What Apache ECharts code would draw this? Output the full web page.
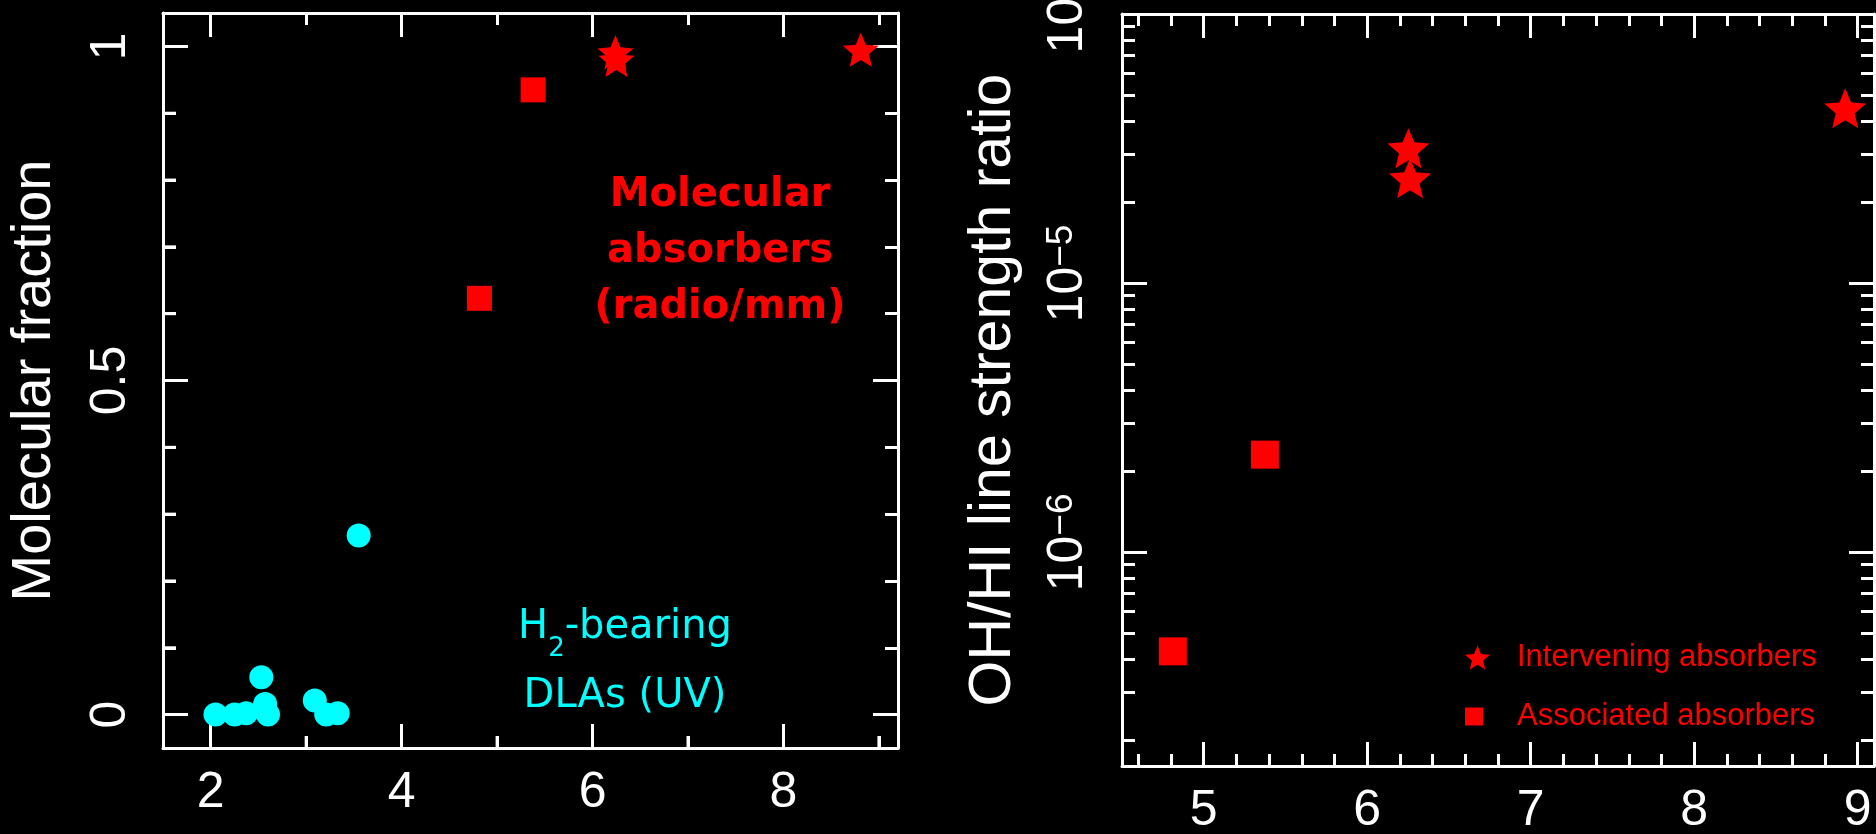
<!DOCTYPE html>
<html><head><meta charset="utf-8">
<script src="https://cdn.jsdelivr.net/npm/echarts@6/dist/echarts.min.js"></script>
<style>html,body{margin:0;padding:0;background:#000}#c{width:1876px;height:834px}</style>
</head><body><div id="c"></div>
<script>
// ---------- Left panel data ----------
const leftXRange = [1.5, 9.2];
const leftYRange = [-0.05, 1.05];
const leftXMajorTicks = [2, 4, 6, 8];
const leftXMinorTicks = [3, 5, 7, 9];
const leftYMajorTicks = [0, 0.5, 1];
const leftYMinorTicks = [0.1, 0.2, 0.3, 0.4, 0.6, 0.7, 0.8, 0.9];
const dlaX = [2.05, 2.25, 2.37, 2.53, 2.57, 2.60, 3.09, 3.21, 3.33, 3.55];
const dlaY = [0.0, 0.0, 0.002, 0.056, 0.016, 0.0, 0.021, 0.0, 0.002, 0.268];
const molSquareX = [4.815, 5.377];
const molSquareY = [0.623, 0.935];
const molStarX = [6.24, 6.25, 8.81];
const molStarY = [0.991, 0.98, 0.995];
// ---------- Right panel data ----------
const rightXRange = [4.5, 9.1];
const rightYRange = [1.6e-7, 1e-4];
const rightXMajorTicks = [5, 6, 7, 8, 9];
const rightXMinorTicks = [4.6, 4.8, 5.2, 5.4, 5.6, 5.8, 6.2, 6.4, 6.6, 6.8, 7.2, 7.4, 7.6, 7.8, 8.2, 8.4, 8.6, 8.8];
const rightYMajorTicks = [1e-6, 1e-5, 1e-4];
const rightYMinorTicks = [2e-7, 3e-7, 4e-7, 5e-7, 6e-7, 7e-7, 8e-7, 9e-7,
  2e-6, 3e-6, 4e-6, 5e-6, 6e-6, 7e-6, 8e-6, 9e-6,
  2e-5, 3e-5, 4e-5, 5e-5, 6e-5, 7e-5, 8e-5, 9e-5];
const interveningX = [6.252, 6.262, 8.924];
const interveningY = [3.17e-5, 2.45e-5, 4.46e-5];
const associatedX = [4.811, 5.374];
const associatedY = [4.27e-7, 2.30e-6];

const WHITE = '#ffffff', RED = '#ff0000', CYAN = '#00ffff';
const FONT = 'Liberation Sans';
const STAR = 'path://M0,-10L2.645,-3.641L9.511,-3.09L4.28,1.391L5.878,8.09L0,4.5L-5.878,8.09L-4.28,1.391L-9.511,-3.09L-2.645,-3.641Z';

function frameAxis(gridIndex, position, type, range, ticks, len, showLine, label, extra) {
  const ax = {
    type: type, gridIndex: gridIndex, position: position, min: range[0], max: range[1],
    axisLine: {show: showLine, onZero: false, lineStyle: {color: WHITE, width: 3}},
    axisTick: {show: true, inside: true, length: len, customValues: ticks, lineStyle: {color: WHITE, width: 3}},
    axisLabel: label || {show: false},
    splitLine: {show: false},
    minorTick: {show: false}, minorSplitLine: {show: false}
  };
  if (type === 'log') ax.logBase = 10;
  return Object.assign(ax, extra || {});
}

const lxLabel = {show: true, customValues: leftXMajorTicks, color: WHITE, fontSize: 50, fontFamily: FONT, margin: 20};
const rxLabel = {show: true, customValues: rightXMajorTicks, color: WHITE, fontSize: 50, fontFamily: FONT, margin: 20};
const lyLabel = {show: true, customValues: leftYMajorTicks, rotate: 90, color: WHITE, fontSize: 50, fontFamily: FONT, margin: 27};
const ryLabel = {
  show: true, customValues: rightYMajorTicks, rotate: 90, margin: 29,
  formatter: function (v) { return '{b|10}{s|\u2212' + Math.round(-Math.log10(v)) + '}'; },
  rich: {
    b: {fontSize: 50, color: WHITE, fontFamily: FONT, padding: [0, 0, 0, 19]},
    s: {fontSize: 37, color: WHITE, fontFamily: FONT, verticalAlign: 'top'}
  }
};

const xAxes = [
  frameAxis(0, 'bottom', 'value', leftXRange, leftXMajorTicks, 24, true, lxLabel),
  frameAxis(0, 'bottom', 'value', leftXRange, leftXMinorTicks, 12, false),
  frameAxis(0, 'top', 'value', leftXRange, leftXMajorTicks, 24, true),
  frameAxis(0, 'top', 'value', leftXRange, leftXMinorTicks, 12, false),
  frameAxis(1, 'bottom', 'value', rightXRange, rightXMajorTicks, 24, true, rxLabel),
  frameAxis(1, 'bottom', 'value', rightXRange, rightXMinorTicks, 12, false),
  frameAxis(1, 'top', 'value', rightXRange, rightXMajorTicks, 24, true),
  frameAxis(1, 'top', 'value', rightXRange, rightXMinorTicks, 12, false)
];
const yAxes = [
  frameAxis(0, 'left', 'value', leftYRange, leftYMajorTicks, 25, true, lyLabel, {
    name: 'Molecular fraction', nameLocation: 'middle', nameGap: 100,
    nameTextStyle: {color: WHITE, fontSize: 56, fontFamily: FONT}
  }),
  frameAxis(0, 'left', 'value', leftYRange, leftYMinorTicks, 13, false),
  frameAxis(0, 'right', 'value', leftYRange, leftYMajorTicks, 25, true),
  frameAxis(0, 'right', 'value', leftYRange, leftYMinorTicks, 13, false),
  frameAxis(1, 'left', 'log', rightYRange, rightYMajorTicks, 25, true, ryLabel, {
    name: 'OH/HI line strength ratio', nameLocation: 'middle', nameGap: 99,
    nameTextStyle: {color: WHITE, fontSize: 59, fontFamily: FONT}
  }),
  frameAxis(1, 'left', 'log', rightYRange, rightYMinorTicks, 13, false),
  frameAxis(1, 'right', 'log', rightYRange, rightYMajorTicks, 25, true),
  frameAxis(1, 'right', 'log', rightYRange, rightYMinorTicks, 13, false)
];

function pairs(xs, ys) { return xs.map(function (x, i) { return [x, ys[i]]; }); }

// Extra tick drawing for the left panel's left and bottom minor ticks (through the axis scales)
function tickSeries(data, horizontal, len) {
  return {
    type: 'custom', xAxisIndex: 0, yAxisIndex: 0, silent: true, clip: false, z: 5,
    data: data,
    renderItem: function (params, api) {
      const p = api.coord([api.value(0), api.value(1)]);
      return {
        type: 'line',
        shape: horizontal ? {x1: p[0], y1: p[1], x2: p[0] + len, y2: p[1]}
                          : {x1: p[0], y1: p[1], x2: p[0], y2: p[1] - len},
        style: {stroke: WHITE, lineWidth: 3}
      };
    }
  };
}

const option = {
  backgroundColor: '#000000',
  animation: false,
  grid: [
    {left: 163, top: 13, width: 735, height: 735, containLabel: false, outerBoundsMode: 'none'},
    {left: 1122, top: 14, width: 752, height: 752, containLabel: false, outerBoundsMode: 'none'}
  ],
  xAxis: xAxes,
  yAxis: yAxes,
  legend: [
    {data: [{name: 'Intervening absorbers', icon: STAR}], left: 1465, top: 642, padding: 0,
     itemWidth: 25, itemHeight: 25, selectedMode: false,
     textStyle: {color: RED, fontSize: 31, fontFamily: FONT, padding: [0, 0, 0, 22]}},
    {data: [{name: 'Associated absorbers', icon: 'rect'}], left: 1465, top: 701, padding: 0,
     itemWidth: 18, itemHeight: 18, selectedMode: false,
     textStyle: {color: RED, fontSize: 31, fontFamily: FONT, padding: [0, 0, 0, 29]}}
  ],
  graphic: [
    {type: 'text', x: 720, y: 168, style: {
      text: 'Molecular\nabsorbers\n(radio/mm)', fill: RED, align: 'center', verticalAlign: 'top',
      font: 'bold 40px "DejaVu Sans"', lineHeight: 56}},
    {type: 'text', x: 625, y: 593, style: {
      text: '{n|H}{sub|2}{n|-bearing}\n{n|DLAs (UV)}', align: 'center', verticalAlign: 'top',
      rich: {
        n: {fill: CYAN, fontSize: 40, fontFamily: 'DejaVu Sans', lineHeight: 69},
        sub: {fill: CYAN, fontSize: 26, fontFamily: 'DejaVu Sans', lineHeight: 26, verticalAlign: 'bottom'}
      }}}
  ],
  series: [
    tickSeries(leftYMinorTicks.map(function (v) { return [leftXRange[0], v]; }), true, 13),
    tickSeries(leftXMinorTicks.map(function (v) { return [v, leftYRange[0]]; }), false, 12),
    {name: 'H2-bearing DLAs', type: 'scatter', xAxisIndex: 0, yAxisIndex: 0, data: pairs(dlaX, dlaY),
     symbol: 'circle', symbolSize: 24, itemStyle: {color: CYAN, opacity: 1}, z: 3},
    {name: 'Molecular (associated)', type: 'scatter', xAxisIndex: 0, yAxisIndex: 0, data: pairs(molSquareX, molSquareY),
     symbol: 'rect', symbolSize: 25, itemStyle: {color: RED, opacity: 1}, z: 3},
    {name: 'Molecular (intervening)', type: 'scatter', xAxisIndex: 0, yAxisIndex: 0, data: pairs(molStarX, molStarY),
     symbol: STAR, symbolKeepAspect: true, symbolSize: 36, itemStyle: {color: RED, opacity: 1}, z: 3},
    {name: 'Intervening absorbers', type: 'scatter', xAxisIndex: 4, yAxisIndex: 4, data: pairs(interveningX, interveningY),
     symbol: STAR, symbolKeepAspect: true, symbolSize: 42, itemStyle: {color: RED, opacity: 1}, z: 3},
    {name: 'Associated absorbers', type: 'scatter', xAxisIndex: 4, yAxisIndex: 4, data: pairs(associatedX, associatedY),
     symbol: 'rect', symbolSize: 28, itemStyle: {color: RED, opacity: 1}, z: 3}
  ]
};
const chart = echarts.init(document.getElementById('c'), null, {renderer: 'canvas'});
chart.setOption(option);
</script>
</body></html>
